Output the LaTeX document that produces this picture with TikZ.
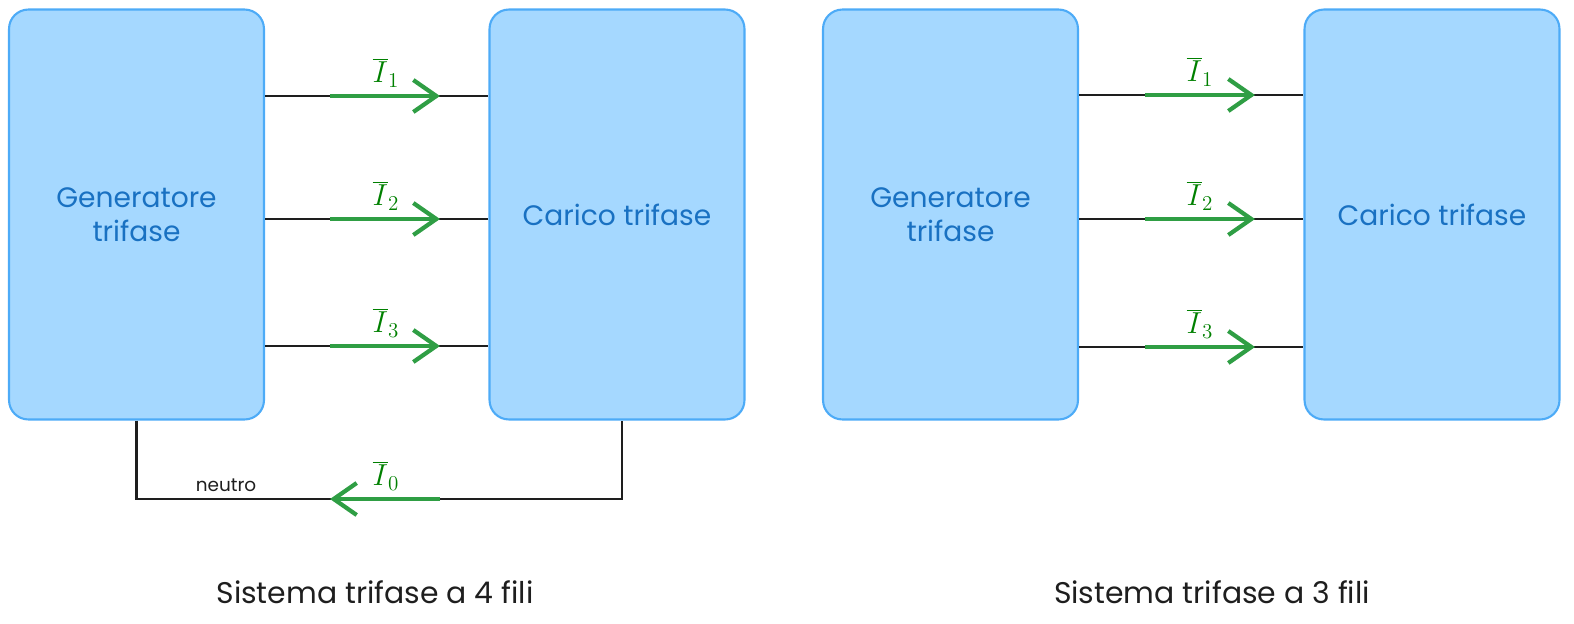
\documentclass[tikz,border=0pt]{standalone}
\usepackage{fontspec}
\setmainfont{Poppins}
\usetikzlibrary{arrows.meta}

\definecolor{boxfill}{HTML}{A5D8FF}
\definecolor{boxline}{HTML}{4DABF7}
\definecolor{boxtext}{HTML}{1971C2}
\definecolor{arrowgreen}{HTML}{2F9E44}
\definecolor{labelgreen}{HTML}{008000}
\definecolor{inkblack}{HTML}{1E1E1E}

\tikzset{
  block/.style={draw=boxline, fill=boxfill, line width=1.2pt, rounded corners=11pt,
    minimum width=5.1cm, minimum height=8.2cm, align=center,
    text=boxtext, font=\fontsize{16}{19.5}\selectfont},
  wire/.style={draw=inkblack, line width=1.3pt},
  current/.style={draw=arrowgreen, line width=2.4pt,
    -{Straight Barb[length=4.6mm, width=6.4mm, line width=2.4pt]}},
  currlabel/.style={text=labelgreen, font=\fontsize{17}{20}\selectfont},
  caption/.style={text=inkblack, font=\fontsize{17}{20}\selectfont}
}

\begin{document}
\begin{tikzpicture}[x=0.02cm, y=-0.02cm]

      \useasboundingbox (0,0) rectangle (1574,623);

      % Draw the two systems
      \node[block] (genA)  at (136.5,214.5)  {Generatore\\trifase};
      \node[block] (loadA) at (617,214.5)    {Carico trifase};
      \node[block] (genB)  at (950.5,214.5)  {Generatore\\trifase};
      \node[block] (loadB) at (1432,214.5)   {Carico trifase};

      % phase wires with currents
      \foreach \y/\k in {96/1, 219/2, 346/3}{
        \draw[wire] (genA.east |- 0,\y) -- (loadA.west |- 0,\y);
        \draw[current] (330,\y) -- (440,\y);
        \node[currlabel] (IA\k) at (386,\y-23) {$\overline{I}_\k$};
      }
      \foreach \y/\k in {95/1, 219/2, 347/3}{
        \draw[wire] (genB.east |- 0,\y) -- (loadB.west |- 0,\y);
        \draw[current] (1145,\y) -- (1255,\y);
        \node[currlabel] (IB\k) at (1200,\y-23) {$\overline{I}_\k$};
      }

      % neutral wire
      \coordinate (N1) at (genA.south |- 0,499);
      \coordinate (N2) at (622,499);
      \draw[wire] (genA.south) -- (N1) -- (N2) -- (N2 |- loadA.south);
      \draw[current] (440,499) -- (330,499);
      \node[currlabel] (I0) at (386,476) {$\overline{I}_0$};
      \node[text=inkblack, font=\fontsize{10.5}{12}\selectfont] (neutro) at (226,485) {neutro};

      \node[caption] (capA) at (375,592) {Sistema trifase a 4 fili};
      \node[caption] (capB) at (1212,592) {Sistema trifase a 3 fili};

    \end{tikzpicture}
\end{document}
